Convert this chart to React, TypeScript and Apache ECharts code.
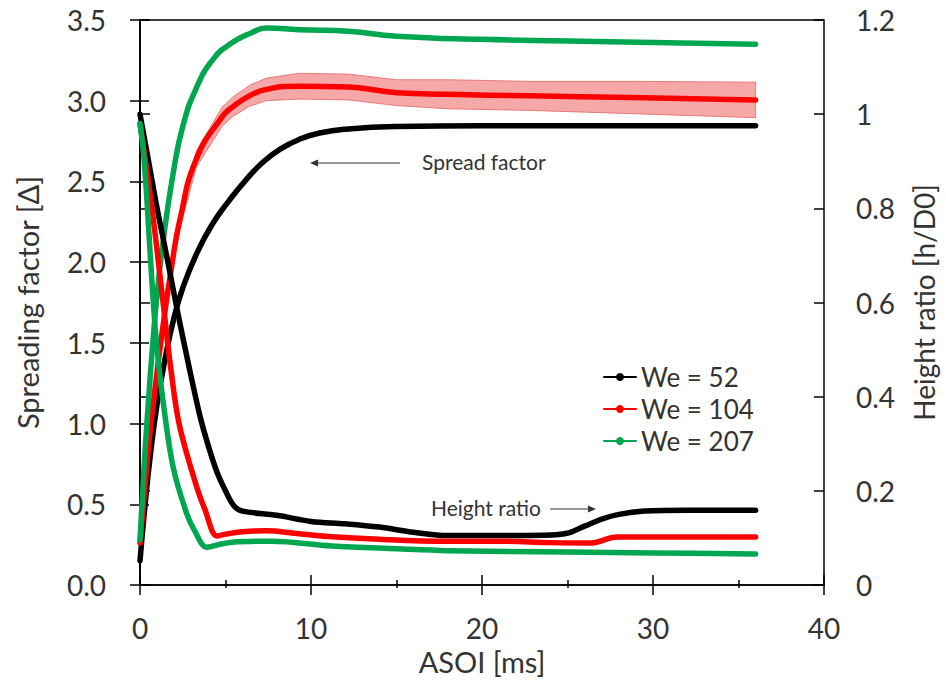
import React, { useEffect, useRef } from "react";
import * as echarts from "echarts";

// ---- data ----
// Spreading factor (left axis)
const tSp52 = [0, 0.3, 0.6, 1, 1.5, 2, 2.5, 3.3, 4.2, 5.2, 6.2, 7.2, 8.2, 9.3, 10.5, 12.2, 15, 20, 25, 30, 36];
const sp52 = [0.15, 0.5, 0.8, 1.12, 1.42, 1.66, 1.84, 2.05, 2.23, 2.38, 2.51, 2.62, 2.7, 2.76, 2.8, 2.825, 2.84, 2.845, 2.845, 2.845, 2.845];

const tSp104 = [0, 0.3, 0.6, 1, 1.34, 1.86, 2.33, 3.3, 4.8, 5.4, 6.4, 7.4, 9.3, 12.2, 15, 18, 22.8, 28.7, 36];
const sp104 = [0.26, 0.62, 0.96, 1.32, 1.6, 1.98, 2.26, 2.64, 2.9, 2.96, 3.03, 3.07, 3.09, 3.085, 3.05, 3.04, 3.03, 3.02, 3.005];
const err104 = [0, 0.02, 0.03, 0.03, 0.04, 0.04, 0.05, 0.05, 0.06, 0.06, 0.065, 0.07, 0.08, 0.08, 0.08, 0.09, 0.09, 0.1, 0.11];

const tSp207 = [0, 0.25, 0.5, 0.75, 1, 1.34, 1.94, 2.5, 3.3, 4.3, 5.4, 6.5, 7.4, 9.3, 12.2, 15, 20, 25, 30, 36];
const sp207 = [0.28, 0.75, 1.15, 1.5, 1.8, 2.12, 2.55, 2.84, 3.08, 3.26, 3.36, 3.42, 3.45, 3.44, 3.43, 3.4, 3.38, 3.37, 3.36, 3.35];

// Height ratio (right axis)
const tH52 = [0, 0.5, 1, 1.5, 2.2, 2.8, 3.5, 4, 4.5, 5, 5.5, 6, 8, 10, 12, 14, 16, 18, 20, 22, 24, 25, 26, 27, 28, 29.5, 32, 36];
const h52 = [1.0, 0.9, 0.8, 0.71, 0.58, 0.475, 0.36, 0.295, 0.24, 0.2, 0.168, 0.157, 0.148, 0.135, 0.13, 0.123, 0.112, 0.105, 0.105, 0.105, 0.106, 0.11, 0.125, 0.14, 0.15, 0.157, 0.159, 0.159];

const tH104 = [0, 0.7, 1.35, 1.8, 2.3, 3.3, 3.8, 4.5, 5, 6, 7.4, 9, 11, 14, 18, 21, 24, 26.3, 27.9, 30, 36];
const h104 = [0.98, 0.8, 0.6, 0.46, 0.34, 0.21, 0.16, 0.104, 0.108, 0.113, 0.115, 0.11, 0.103, 0.097, 0.093, 0.093, 0.09, 0.089, 0.102, 0.102, 0.102];

const tH207 = [0, 0.2, 0.4, 0.6, 0.8, 1.0, 1.35, 1.94, 2.7, 3.2, 3.9, 4.5, 5.4, 7.7, 11.2, 15, 18, 25, 30, 36];
const h207 = [0.98, 0.92, 0.82, 0.7, 0.59, 0.5, 0.39, 0.25, 0.155, 0.115, 0.08, 0.085, 0.091, 0.093, 0.083, 0.077, 0.073, 0.07, 0.068, 0.066];

const seriesNames = ["We = 52", "We = 104", "We = 207"];
const leftTicks = { min: 0, max: 3.5, interval: 0.5 };
const rightTicks = { min: 0, max: 1.2, interval: 0.2 };
const xTicks = { min: 0, max: 40, interval: 10 };

const pairs = (t: number[], v: number[]) => t.map((x, i) => [x, v[i]]);

const FONT = "Lato";
const TXT = "#333";

export default function App() {
  const ref = useRef<HTMLDivElement>(null);
  useEffect(() => {
    if (!ref.current) return;
    const chart = echarts.init(ref.current, undefined, { renderer: "svg" });
    const colors = ["#000000", "#ff0000", "#00a650"];

    const lineSeries = (name: string, data: number[][], color: string, yIdx: number, smooth: number) => ({
      name,
      type: "line",
      xAxisIndex: 0,
      yAxisIndex: yIdx,
      data,
      smooth,
      showSymbol: false,
      symbol: "circle",
      symbolSize: 6,
      z: 3,
      lineStyle: { color, width: 5.5, join: "round", cap: "round" },
      itemStyle: { color },
    });

    const option: any = {
      animation: false,
      grid: { left: 140, right: 118, top: 20, bottom: 95, show: true, borderColor: "#000", borderWidth: 1.5, backgroundColor: "transparent" },
      legend: {
        data: seriesNames,
        orient: "vertical",
        left: 598,
        top: 359,
        itemWidth: 32,
        itemHeight: 10,
        itemGap: 6,
        textStyle: { fontFamily: FONT, fontSize: 26, color: TXT, lineHeight: 26 },
      },
      xAxis: [
        {
          type: "value",
          ...xTicks,
          name: "ASOI [ms]",
          nameLocation: "middle",
          nameGap: 62,
          nameTextStyle: { fontFamily: FONT, fontSize: 29, color: TXT },
          axisLine: { lineStyle: { color: "#000", width: 1.5 } },
          axisTick: { show: true, length: 10, lineStyle: { color: "#000", width: 1.5 } },
          minorTick: { show: true, splitNumber: 2, length: 3, lineStyle: { color: "#000", width: 1.5 } },
          axisLabel: { fontFamily: FONT, fontSize: 28, color: TXT, margin: 29 },
          splitLine: { show: false },
        },
        {
          type: "value",
          ...xTicks,
          position: "bottom",
          axisLine: { show: false },
          axisTick: { show: true, inside: true, length: 10, lineStyle: { color: "#000", width: 1.5 } },
          minorTick: { show: true, splitNumber: 2, length: 5, lineStyle: { color: "#000", width: 1.5 } },
          axisLabel: { show: false },
          splitLine: { show: false },
        },
      ],
      yAxis: [
        {
          type: "value",
          ...leftTicks,
          position: "left",
          name: "Spreading factor [Δ]",
          nameLocation: "middle",
          nameGap: 98,
          nameTextStyle: { fontFamily: FONT, fontSize: 29, color: TXT },
          axisLine: { show: true, lineStyle: { color: "#000", width: 1.5 } },
          axisTick: { show: true, length: 10, lineStyle: { color: "#000", width: 1.5 } },
          axisLabel: { fontFamily: FONT, fontSize: 28, color: TXT, margin: 34, formatter: (v: number) => v.toFixed(1) },
          splitLine: { show: false },
        },
        {
          type: "value",
          ...rightTicks,
          position: "right",
          name: "Height ratio [h/D0]",
          nameLocation: "middle",
          nameGap: 86,
          nameRotate: 90,
          nameTextStyle: { fontFamily: FONT, fontSize: 28, color: TXT },
          axisLine: { show: true, lineStyle: { color: "#000", width: 1.5 } },
          axisTick: { show: true, length: 10, lineStyle: { color: "#000", width: 1.5 } },
          axisLabel: { fontFamily: FONT, fontSize: 28, color: TXT, margin: 32, formatter: (v: number) => String(Math.round(v * 10) / 10) },
          splitLine: { show: false },
        },
        {
          type: "value",
          ...leftTicks,
          position: "left",
          axisLine: { show: false },
          axisTick: { show: true, inside: true, length: 9, lineStyle: { color: "#000", width: 1.5 } },
          axisLabel: { show: false },
          splitLine: { show: false },
        },
        {
          type: "value",
          ...rightTicks,
          position: "right",
          axisLine: { show: false },
          axisTick: { show: true, inside: true, length: 10, lineStyle: { color: "#000", width: 1.5 } },
          axisLabel: { show: false },
          splitLine: { show: false },
        },
      ],
      series: [
        {
          name: "band104",
          type: "custom",
          xAxisIndex: 0,
          yAxisIndex: 0,
          data: [[0, 0]],
          silent: true,
          z: 1,
          renderItem: (_params: any, api: any) => {
            const upper = tSp104.map((t, i) => api.coord([t, sp104[i] + err104[i]]));
            const lower = tSp104.map((t, i) => api.coord([t, sp104[i] - err104[i]])).reverse();
            return {
              type: "polygon",
              shape: { points: upper.concat(lower) },
              style: { fill: "#f6a3a3", stroke: "#e06060", lineWidth: 0.8, opacity: 0.95 },
            };
          },
        },
        lineSeries(seriesNames[0], pairs(tSp52, sp52), colors[0], 0, 0.5),
        lineSeries(seriesNames[1], pairs(tSp104, sp104), colors[1], 0, 0.5),
        lineSeries(seriesNames[2], pairs(tSp207, sp207), colors[2], 0, 0.5),
        lineSeries(seriesNames[0], pairs(tH52, h52), colors[0], 1, 0.35),
        lineSeries(seriesNames[1], pairs(tH104, h104), colors[1], 1, 0.35),
        lineSeries(seriesNames[2], pairs(tH207, h207), colors[2], 1, 0.35),
      ],
      graphic: [
        { type: "text", left: 422, top: 151, z: 10, style: { text: "Spread factor", font: `21px ${FONT}`, fill: TXT } },
        { type: "line", z: 10, shape: { x1: 316, y1: 163, x2: 400, y2: 163 }, style: { stroke: "#333", lineWidth: 1 } },
        { type: "polygon", z: 10, shape: { points: [[310, 163], [318, 159.5], [318, 166.5]] }, style: { fill: "#333" } },
        { type: "text", left: 431, top: 497, z: 10, style: { text: "Height ratio", font: `21px ${FONT}`, fill: TXT } },
        { type: "line", z: 10, shape: { x1: 550, y1: 509, x2: 590, y2: 509 }, style: { stroke: "#333", lineWidth: 1 } },
        { type: "polygon", z: 10, shape: { points: [[596, 509], [588, 505.5], [588, 512.5]] }, style: { fill: "#333" } },
      ],
    };
    chart.setOption(option);
    return () => chart.dispose();
  }, []);
  return <div ref={ref} style={{ width: 946, height: 681, position: "absolute", left: 0, top: 0, background: "#fff" }} />;
}
